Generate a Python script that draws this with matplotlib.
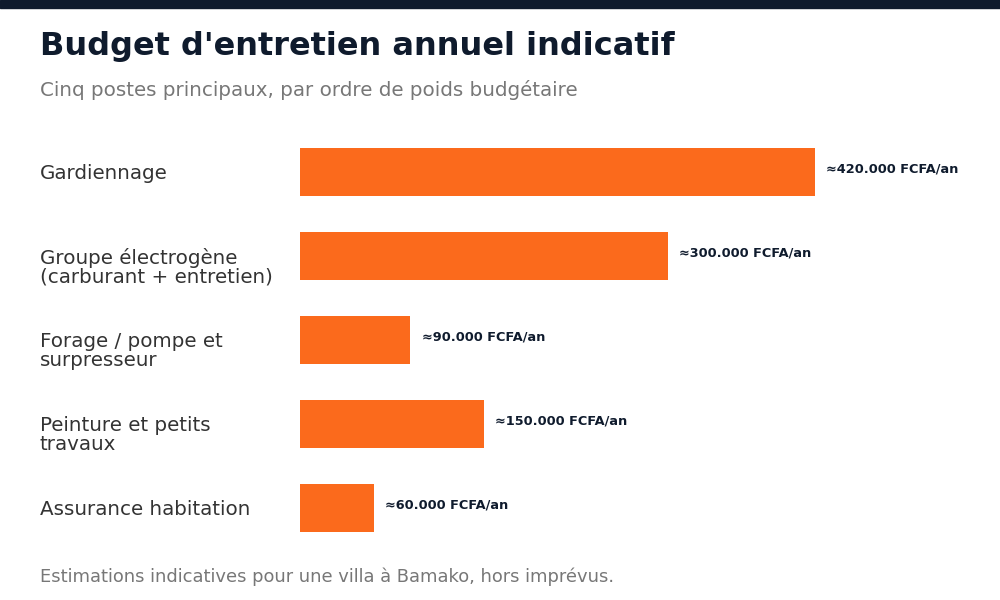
import matplotlib
matplotlib.use('Agg')
import matplotlib.pyplot as plt
from matplotlib.patches import Rectangle

# data
postes = ['Gardiennage',
          'Groupe électrogène\n(carburant + entretien)',
          'Forage / pompe et\nsurpresseur',
          'Peinture et petits\ntravaux',
          'Assurance habitation']
montants = [420000, 300000, 90000, 150000, 60000]
etiquettes = ['≈420.000 FCFA/an', '≈300.000 FCFA/an', '≈90.000 FCFA/an',
              '≈150.000 FCFA/an', '≈60.000 FCFA/an']

orange = '#fb6a1c'
navy = '#0f1b2d'

fig = plt.figure(figsize=(10, 6), dpi=100)
fig.patch.set_facecolor('white')

# bandeau du haut
fig.patches.append(Rectangle((0, 1 - 8/600), 1, 8/600, transform=fig.transFigure,
                             color=navy, zorder=0))

ax = fig.add_axes([0.30, 1 - 550/600, 0.66, 420/600])
ypos = list(range(len(postes)))
ax.barh(ypos, montants, height=0.571, color=orange)
ax.set_ylim(len(postes) - 0.5, -0.5)
ax.set_xlim(0, 538000)
ax.axis('off')

for y, v, lab in zip(ypos, montants, etiquettes):
    ax.annotate(lab, (v, y), xytext=(8, 2), textcoords='offset points',
                ha='left', va='center', fontsize=9.3, fontweight='bold', color=navy)

# libellés des postes (première ligne alignée sur le centre de la barre)
for y, p in zip(ypos, postes):
    ax.annotate(p, (0.04, y), xycoords=('figure fraction', 'data'),
                xytext=(0, 6), textcoords='offset points',
                ha='left', va='top', fontsize=14.3, color='#333333', linespacing=1.0)

fig.text(0.04, 1 - 46/600, "Budget d'entretien annuel indicatif", fontsize=23,
         fontweight='bold', color=navy, va='center')
fig.text(0.04, 1 - 90/600, 'Cinq postes principaux, par ordre de poids budgétaire',
         fontsize=14.3, color='#777777', va='center')
fig.text(0.04, 1 - 577/600, 'Estimations indicatives pour une villa à Bamako, hors imprévus.',
         fontsize=12.9, color='#777777', va='center')

fig.savefig('out.png', dpi=100)
